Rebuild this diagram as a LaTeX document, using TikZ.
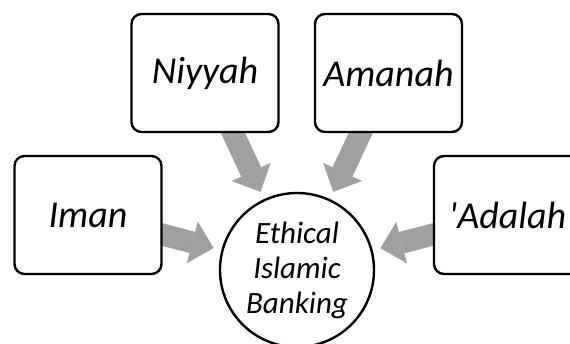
\documentclass[tikz,border=0pt]{standalone}
\usepackage{fontspec}
\setmainfont{Carlito}
\usepackage{xcolor}
\usepackage{tikz}
\usetikzlibrary{arrows.meta,backgrounds}
\definecolor{arrowgray}{RGB}{160,160,160}

\begin{document}
\begin{tikzpicture}[
    x=1pt,
    y=1pt,
    value/.style={draw, line width=2.4pt, rounded corners=10pt, fill=white,
        minimum width=147pt, minimum height=118pt, inner sep=0pt,
        font=\fontsize{38}{42}\selectfont\itshape},
    core/.style={draw, circle, line width=2.4pt, fill=white,
        minimum size=154pt, inner sep=0pt, align=center,
        font=\fontsize{31}{35}\selectfont\itshape},
    feed/.style={draw=arrowgray, line width=22pt, shorten <=-10pt, shorten >=8pt,
        -{Triangle[width=43pt, length=22pt, line width=0pt]}}
]
\useasboundingbox (0,0) rectangle (570,343);
\node[value] (niyyah) at (205,270) {Niyyah};
\node[value] (amanah) at (388.5,270) {Amanah};
\node[value] (iman) at (88,128) {Iman};
\node[value] (adalah) at (507.5,128) {\textquotesingle Adalah};
\node[core] (ethical) at (297,73) {Ethical\\Islamic\\Banking};
\begin{scope}[on background layer]
\draw[feed] (niyyah) -- (ethical);
\draw[feed] (amanah) -- (ethical);
\draw[feed] (iman) -- (ethical);
\draw[feed] (adalah) -- (ethical);
\end{scope}
\end{tikzpicture}
\end{document}
